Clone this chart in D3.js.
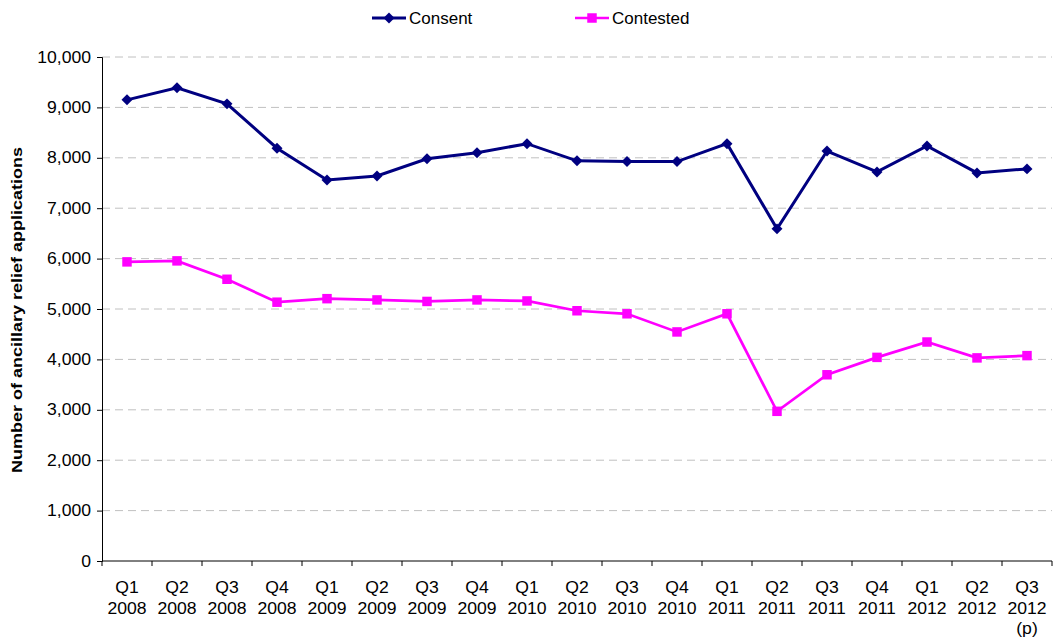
<!DOCTYPE html>
<html>
<head>
<meta charset="utf-8">
<script src="https://cdn.jsdelivr.net/npm/d3@7"></script>
<style>
  body { margin: 0; background: #fff; }
  text { font-family: "Liberation Sans", Arial, sans-serif; }
</style>
</head>
<body>
<svg id="chart"></svg>
<script>
// quarters shown along the bottom
const quarters = ["Q1","Q2","Q3","Q4","Q1","Q2","Q3","Q4","Q1","Q2","Q3","Q4","Q1","Q2","Q3","Q4","Q1","Q2","Q3"];
const years = ["2008","2008","2008","2008","2009","2009","2009","2009","2010","2010","2010","2010","2011","2011","2011","2011","2012","2012","2012"];
const notes = ["","","","","","","","","","","","","","","","","","","(p)"];

const consent = [9150, 9390, 9070, 8190, 7560, 7640, 7980, 8100, 8280, 7940, 7925, 7925, 8280, 6590, 8135, 7720, 8235, 7700, 7780];
const contested = [5935, 5955, 5590, 5135, 5205, 5180, 5150, 5180, 5160, 4965, 4905, 4545, 4905, 2970, 3695, 4040, 4345, 4030, 4075];

const yTicks = [0, 1000, 2000, 3000, 4000, 5000, 6000, 7000, 8000, 9000, 10000];

const W = 1053, H = 642;
const margin = {left: 102, right: 1, top: 57, bottom: 81};
const stretch = 1.1; // the labels in the original look slightly wide

const svg = d3.select("#chart")
    .attr("width", W)
    .attr("height", H);

const xscale = d3.scaleBand()
    .domain(d3.range(quarters.length))
    .range([margin.left, W - margin.right]);

const yscale = d3.scaleLinear()
    .domain([0, 10000])
    .range([H - margin.bottom, margin.top]);

// gridlines
svg.append("g")
    .selectAll("line")
    .data(yTicks.filter(d => d > 0))
    .join("line")
    .attr("x1", margin.left)
    .attr("x2", W - margin.right)
    .attr("y1", d => yscale(d))
    .attr("y2", d => yscale(d))
    .attr("stroke", "#c0c0c0")
    .attr("stroke-width", 1)
    .attr("stroke-dasharray", "8,5");

// y axis
const yaxis = d3.axisLeft(yscale)
    .tickValues(yTicks)
    .tickFormat(d3.format(","))
    .tickSizeOuter(0)
    .tickSize(5)
    .tickPadding(6);

svg.append("g")
    .attr("transform", `translate(${margin.left},0)`)
    .call(yaxis)
    .call(g => g.select(".domain").attr("stroke", "#000"))
    .call(g => g.selectAll("text")
        .attr("font-size", "16px").attr("fill", "#000")
        .attr("font-family", "Liberation Sans, Arial, sans-serif")
        .attr("x", -11 / stretch)
        .attr("transform", `scale(${stretch},1)`));

// x axis: ticks on band edges
const xg = svg.append("g")
    .attr("transform", `translate(0,${H - margin.bottom})`);
xg.append("line")
    .attr("x1", margin.left).attr("x2", W - margin.right)
    .attr("stroke", "#000");
const edges = d3.range(quarters.length + 1).map(i => margin.left + i * xscale.step());
xg.selectAll(".tk")
    .data(edges)
    .join("line")
    .attr("x1", d => d).attr("x2", d => d)
    .attr("y1", 0).attr("y2", 5)
    .attr("stroke", "#000");

const cx = i => xscale(i) + xscale.bandwidth()/2;

const xl = xg.selectAll(".lbl")
    .data(quarters.map((q, i) => i))
    .join("text")
    .attr("transform", i => `translate(${cx(i)},0) scale(${stretch},1)`)
    .attr("text-anchor", "middle")
    .attr("font-size", "16px")
    .attr("fill", "#000");
xl.append("tspan").attr("x", 0).attr("y", 32).text(i => quarters[i]);
xl.append("tspan").attr("x", 0).attr("y", 53).text(i => years[i]);
xl.filter(i => notes[i] !== "").append("tspan")
    .attr("x", 0).attr("y", 73).text(i => notes[i]);

// y axis title
svg.append("text")
    .attr("transform", `translate(22,${(margin.top + H - margin.bottom)/2 + 1}) rotate(-90) scale(1,0.85)`)
    .attr("text-anchor", "middle")
    .attr("font-size", "18px")
    .attr("font-weight", "bold")
    .text("Number of ancillary relief applications");

const diamond = {draw(ctx, size) {
    const r = Math.sqrt(size / 2);
    ctx.moveTo(0, -r); ctx.lineTo(r, 0); ctx.lineTo(0, r); ctx.lineTo(-r, 0); ctx.closePath();
}};

const series = [
    {name: "Consent", values: consent, color: "#000080", shape: diamond, size: 60, width: 3},
    {name: "Contested", values: contested, color: "#ff00ff", shape: d3.symbolSquare, size: 90, width: 2.7}
];

const line = d3.line().x((d, i) => cx(i)).y(d => yscale(d));

series.forEach(s => {
    svg.append("path")
        .datum(s.values)
        .attr("fill", "none")
        .attr("stroke", s.color)
        .attr("stroke-width", s.width)
        .attr("d", line);

    svg.append("g")
        .selectAll("path")
        .data(s.values)
        .join("path")
        .attr("transform", (d, i) => `translate(${cx(i)},${yscale(d)})`)
        .attr("d", d3.symbol().type(s.shape).size(s.size))
        .attr("fill", s.color);
});

// legend
const legendX = [372, 575];
series.forEach((s, k) => {
    const g = svg.append("g").attr("transform", `translate(${legendX[k]},18)`);
    g.append("line")
        .attr("x1", 0).attr("x2", 34)
        .attr("stroke", s.color).attr("stroke-width", s.width);
    g.append("path")
        .attr("transform", "translate(17,0)")
        .attr("d", d3.symbol().type(s.shape).size(s.size))
        .attr("fill", s.color);
    g.append("text")
        .attr("x", 37).attr("y", 6)
        .attr("font-size", "17px")
        .text(s.name);
});
</script>
</body>
</html>
